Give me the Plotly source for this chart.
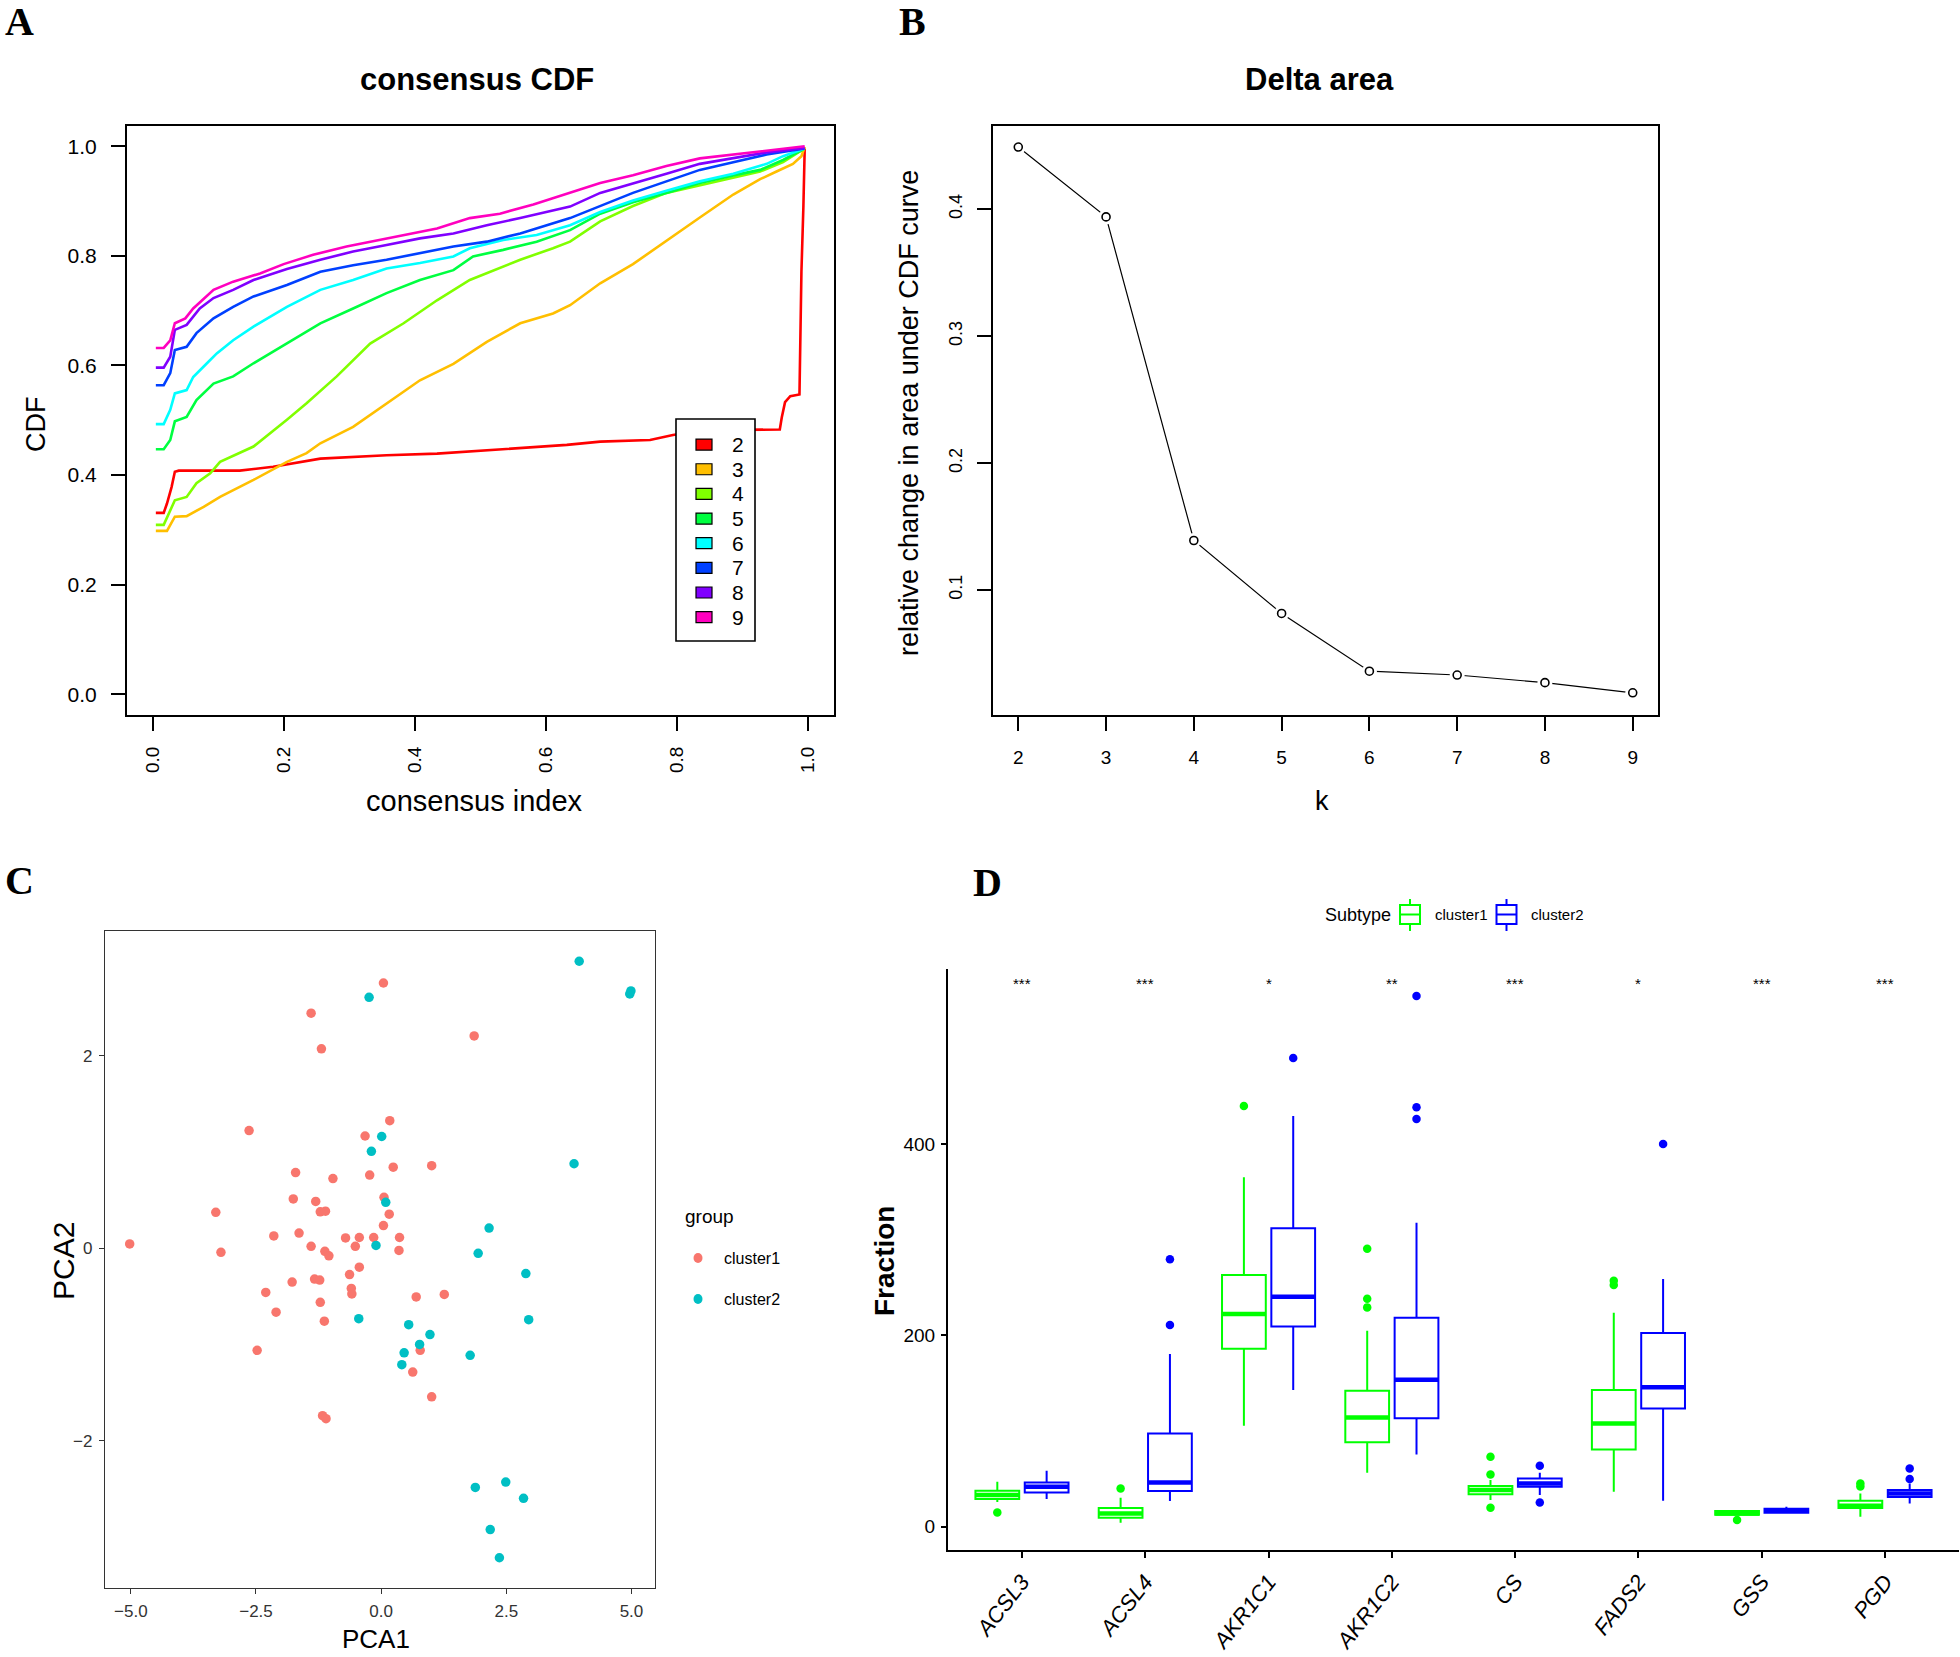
import plotly.graph_objects as go

W, H = 1960, 1657


def fx(x):
    return x / W


def fy(y):
    return 1 - y / H


ARIAL = "Liberation Sans, Arial, sans-serif"
SERIF = "Liberation Serif, Times New Roman, serif"

# ---------------- Panel A: consensus CDF ----------------
cdf_labels = ["2", "3", "4", "5", "6", "7", "8", "9"]
cdf_colors = ["#FF0000", "#FFBF00", "#80FF00", "#00FF40", "#00FFFF", "#0040FF", "#8000FF", "#FF00BF"]

cdf2_x = [0.005, 0.017, 0.022, 0.029, 0.034, 0.040, 0.133, 0.184, 0.256, 0.357, 0.434, 0.525, 0.586, 0.632,
          0.683, 0.759, 0.794, 0.840, 0.957, 0.960, 0.965, 0.973, 0.987, 0.988, 0.990, 0.993, 0.995]
cdf2_y = [0.331, 0.331, 0.348, 0.378, 0.406, 0.408, 0.408, 0.415, 0.430, 0.436, 0.439, 0.446, 0.451, 0.455,
          0.461, 0.464, 0.473, 0.482, 0.483, 0.505, 0.533, 0.544, 0.547, 0.660, 0.771, 0.890, 0.996]
cdf3_x = [0.005, 0.022, 0.034, 0.052, 0.078, 0.103, 0.154, 0.205, 0.235, 0.256, 0.306, 0.357, 0.408, 0.459,
          0.510, 0.561, 0.611, 0.637, 0.683, 0.733, 0.784, 0.835, 0.886, 0.927, 0.952, 0.977, 0.990, 0.995]
cdf3_y = [0.298, 0.298, 0.324, 0.325, 0.342, 0.360, 0.391, 0.424, 0.440, 0.458, 0.488, 0.531, 0.573, 0.603,
          0.643, 0.677, 0.695, 0.710, 0.750, 0.785, 0.828, 0.870, 0.912, 0.940, 0.954, 0.968, 0.982, 0.999]
cdf4_x = [0.005, 0.017, 0.034, 0.052, 0.067, 0.088, 0.103, 0.154, 0.205, 0.235, 0.281, 0.332, 0.383, 0.434,
          0.484, 0.510, 0.561, 0.611, 0.637, 0.683, 0.733, 0.784, 0.835, 0.886, 0.927, 0.962, 0.995]
cdf4_y = [0.309, 0.309, 0.354, 0.360, 0.385, 0.403, 0.424, 0.452, 0.501, 0.531, 0.580, 0.640, 0.677, 0.719,
          0.756, 0.768, 0.793, 0.814, 0.826, 0.863, 0.891, 0.915, 0.929, 0.943, 0.954, 0.971, 0.996]
cdf5_x = [0.005, 0.017, 0.027, 0.034, 0.052, 0.067, 0.093, 0.123, 0.154, 0.205, 0.256, 0.306, 0.357, 0.408,
          0.459, 0.489, 0.535, 0.586, 0.637, 0.683, 0.733, 0.784, 0.835, 0.886, 0.927, 0.962, 0.995]
cdf5_y = [0.447, 0.447, 0.464, 0.498, 0.506, 0.537, 0.567, 0.580, 0.604, 0.640, 0.677, 0.704, 0.732, 0.756,
          0.774, 0.799, 0.811, 0.826, 0.847, 0.877, 0.898, 0.915, 0.933, 0.947, 0.957, 0.975, 0.996]
cdf6_x = [0.005, 0.017, 0.027, 0.034, 0.052, 0.062, 0.083, 0.098, 0.123, 0.154, 0.205, 0.256, 0.306, 0.357,
          0.408, 0.459, 0.484, 0.535, 0.586, 0.637, 0.683, 0.733, 0.784, 0.835, 0.886, 0.937, 0.962, 0.995]
cdf6_y = [0.493, 0.493, 0.519, 0.549, 0.555, 0.579, 0.604, 0.622, 0.646, 0.671, 0.707, 0.738, 0.756, 0.777,
          0.787, 0.799, 0.814, 0.829, 0.838, 0.856, 0.880, 0.901, 0.919, 0.936, 0.950, 0.968, 0.982, 0.996]
cdf7_x = [0.005, 0.017, 0.027, 0.034, 0.052, 0.067, 0.093, 0.123, 0.154, 0.205, 0.256, 0.306, 0.357, 0.408,
          0.459, 0.510, 0.561, 0.637, 0.683, 0.733, 0.784, 0.835, 0.886, 0.937, 0.995]
cdf7_y = [0.564, 0.564, 0.586, 0.628, 0.634, 0.659, 0.686, 0.707, 0.726, 0.747, 0.771, 0.783, 0.793, 0.805,
          0.817, 0.826, 0.841, 0.869, 0.891, 0.915, 0.936, 0.957, 0.971, 0.985, 0.996]
cdf8_x = [0.005, 0.017, 0.027, 0.034, 0.052, 0.072, 0.093, 0.123, 0.154, 0.205, 0.256, 0.306, 0.357, 0.408,
          0.459, 0.510, 0.561, 0.637, 0.683, 0.733, 0.784, 0.835, 0.886, 0.937, 0.995]
cdf8_y = [0.596, 0.596, 0.616, 0.665, 0.674, 0.704, 0.723, 0.738, 0.756, 0.776, 0.793, 0.808, 0.820, 0.832,
          0.841, 0.856, 0.869, 0.890, 0.915, 0.933, 0.950, 0.968, 0.978, 0.989, 0.997]
cdf9_x = [0.005, 0.017, 0.027, 0.034, 0.050, 0.062, 0.072, 0.093, 0.123, 0.164, 0.200, 0.245, 0.296, 0.357,
          0.434, 0.484, 0.530, 0.581, 0.632, 0.683, 0.733, 0.784, 0.835, 0.886, 0.937, 0.995]
cdf9_y = [0.632, 0.632, 0.646, 0.677, 0.686, 0.704, 0.715, 0.738, 0.753, 0.768, 0.785, 0.802, 0.817, 0.832,
          0.850, 0.869, 0.877, 0.894, 0.913, 0.933, 0.947, 0.964, 0.978, 0.985, 0.993, 1.000]

cdf_xs = [cdf2_x, cdf3_x, cdf4_x, cdf5_x, cdf6_x, cdf7_x, cdf8_x, cdf9_x]
cdf_ys = [cdf2_y, cdf3_y, cdf4_y, cdf5_y, cdf6_y, cdf7_y, cdf8_y, cdf9_y]

# ---------------- Panel B: Delta area ----------------
k_values = [2, 3, 4, 5, 6, 7, 8, 9]
delta_area = [0.449, 0.394, 0.139, 0.0815, 0.036, 0.033, 0.027, 0.019]

# ---------------- Panel C: PCA ----------------
pc1_cluster1 = [0.046, -1.399, -1.193, 1.858, -2.638, 0.172, -0.321, -1.709, -0.963, -0.229, 0.241, 1.009,
                -1.755, -1.307, -1.216, -1.112, 0.057, 0.161, -3.303, 0.046, -5.023, -3.200, -2.144, -1.640,
                -1.399, -1.124, -1.044, -0.711, -0.436, -0.516, -0.149, 0.367, 0.356, -0.436, -0.631, -0.596,
                -0.585, -1.330, -1.227, -1.778, -2.305, -1.216, -2.099, -1.135, 0.700, 1.261, -2.477, 0.780,
                0.631, 1.009, -1.170, -1.101]
pc2_cluster1 = [2.756, 2.442, 2.072, 2.206, 1.224, 1.326, 1.167, 0.787, 0.725, 0.761, 0.843, 0.859,
                0.514, 0.488, 0.380, 0.386, 0.530, 0.355, 0.375, 0.237, 0.046, -0.041, 0.129, 0.159,
                0.021, -0.031, -0.077, 0.108, 0.113, 0.021, 0.113, 0.113, -0.021, -0.195, -0.272, -0.416,
                -0.473, -0.319, -0.329, -0.350, -0.458, -0.560, -0.663, -0.756, -0.504, -0.478, -1.059, -1.059,
                -1.285, -1.542, -1.738, -1.769]
pc1_cluster2 = [3.956, 4.966, 4.989, -0.241, 0.011, -0.195, 3.853, 0.092, 2.156, -0.103, 1.938, 2.890,
                2.947, -0.447, 0.550, 0.975, 0.768, 0.459, 0.413, 1.778, 1.881, 2.489, 2.844, 2.179, 2.362]
pc2_cluster2 = [2.982, 2.643, 2.674, 2.607, 1.162, 1.008, 0.879, 0.478, 0.211, 0.031, -0.051, -0.262,
                -0.740, -0.730, -0.792, -0.895, -0.997, -1.085, -1.208, -1.111, -2.483, -2.427, -2.596, -2.920,
                -3.213]
pca_groups = ["cluster1", "cluster2"]
pca_colors = ["#F8766D", "#00BFC4"]

# ---------------- Panel D: boxplots ----------------
genes = ["ACSL3", "ACSL4", "AKR1C1", "AKR1C2", "CS", "FADS2", "GSS", "PGD"]
sig_labels = ["***", "***", "*", "**", "***", "*", "***", "***"]
sig_y = 568

c1_lower = [25.9, 4.1, 105.5, 56.3, 27.8, 36.5, 12.4, 10.4]
c1_q1 = [28.8, 9.3, 186.0, 88.1, 34.0, 80.7, 12.4, 19.4]
c1_median = [33.0, 13.8, 222.2, 114.2, 38.2, 107.9, 13.8, 21.8]
c1_q3 = [37.5, 19.4, 263.0, 142.1, 42.4, 142.8, 16.3, 27.1]
c1_upper = [46.9, 30.2, 365.1, 204.8, 48.7, 223.6, 17.3, 34.7]
c1_outliers = [[14.9], [40.0], [439.7], [290.5, 238.3, 229.2], [73.1, 54.6, 19.8], [257.1, 252.5], [6.9],
               [45.2, 42.0]]

c2_lower = [28.8, 26.7, 142.8, 75.5, 33.0, 27.1, 13.8, 24.3]
c2_q1 = [35.8, 37.2, 209.3, 113.2, 41.7, 123.6, 14.5, 30.9]
c2_median = [41.7, 46.2, 240.4, 153.6, 45.2, 145.6, 16.6, 34.7]
c2_q3 = [46.2, 97.5, 311.8, 218.4, 50.4, 202.4, 18.7, 38.2]
c2_upper = [58.4, 180.4, 429.2, 317.7, 56.3, 258.8, 20.8, 45.2]
c2_outliers = [[], [210.7, 279.4], [489.9], [554.7, 438.3, 426.1], [63.7, 25.3], [400.0], [], [60.9, 49.7]]

subtypes = ["cluster1", "cluster2"]
subtype_colors = ["#00FF00", "#0000FF"]

fig = go.Figure()

# ---- A traces
for xs, ys, col, lab in zip(cdf_xs, cdf_ys, cdf_colors, cdf_labels):
    fig.add_trace(go.Scatter(x=xs, y=ys, mode="lines", line=dict(color=col, width=2.6),
                             name=lab, showlegend=False, xaxis="x", yaxis="y"))

# ---- B traces
fig.add_trace(go.Scatter(x=k_values, y=delta_area, mode="lines", line=dict(color="black", width=1.2),
                         showlegend=False, xaxis="x2", yaxis="y2"))
fig.add_trace(go.Scatter(x=k_values, y=delta_area, mode="markers",
                         marker=dict(symbol="circle", size=15, color="white", line=dict(width=0)),
                         showlegend=False, xaxis="x2", yaxis="y2"))
fig.add_trace(go.Scatter(x=k_values, y=delta_area, mode="markers",
                         marker=dict(symbol="circle-open", size=8, color="black", line=dict(width=1.6)),
                         showlegend=False, xaxis="x2", yaxis="y2"))

# ---- C traces
for xs, ys, col, lab in zip([pc1_cluster1, pc1_cluster2], [pc2_cluster1, pc2_cluster2], pca_colors, pca_groups):
    fig.add_trace(go.Scatter(x=xs, y=ys, mode="markers", name=lab, showlegend=False,
                             marker=dict(color=col, size=9.5, line=dict(width=0)),
                             xaxis="x3", yaxis="y3"))

# ---- D traces
BW = 0.355
OFF = 0.2
stats = [
    (c1_lower, c1_q1, c1_median, c1_q3, c1_upper, c1_outliers),
    (c2_lower, c2_q1, c2_median, c2_q3, c2_upper, c2_outliers),
]
for gi, (lo, q1, med, q3, up, outl) in enumerate(stats):
    col = subtype_colors[gi]
    sign = -1 if gi == 0 else 1
    xpos = [i + 1 + sign * OFF for i in range(len(genes))]
    fig.add_trace(go.Box(x=xpos, q1=q1, median=med, q3=q3, lowerfence=lo, upperfence=up,
                         width=BW, whiskerwidth=0, boxpoints=False, orientation="v",
                         line=dict(color=col, width=2), fillcolor="white",
                         name=subtypes[gi], showlegend=False, xaxis="x4", yaxis="y4"))
    mx, my = [], []
    for xp, m in zip(xpos, med):
        mx += [xp - BW / 2, xp + BW / 2, None]
        my += [m, m, None]
    fig.add_trace(go.Scatter(x=mx, y=my, mode="lines", line=dict(color=col, width=4.5),
                             showlegend=False, xaxis="x4", yaxis="y4"))
    ox, oy = [], []
    for xp, vals in zip(xpos, outl):
        for v in vals:
            ox.append(xp)
            oy.append(v)
    fig.add_trace(go.Scatter(x=ox, y=oy, mode="markers", marker=dict(color=col, size=8.5),
                             showlegend=False, xaxis="x4", yaxis="y4"))

# ---------------- Layout ----------------
ann = []
shapes = []


def text(x, y, s, size, family=ARIAL, angle=0, xanchor="center", bold=False, color="black"):
    ann.append(dict(x=fx(x), y=fy(y), xref="paper", yref="paper", text=(f"<b>{s}</b>" if bold else s),
                    showarrow=False, textangle=angle, xanchor=xanchor, yanchor="middle",
                    font=dict(size=size, family=family, color=color)))


# panel letters
text(19, 22, "A", 40, SERIF, bold=True)
text(912, 22, "B", 40, SERIF, bold=True)
text(19, 880, "C", 40, SERIF, bold=True)
text(987, 882, "D", 40, SERIF, bold=True)

# A titles
text(477, 79, "consensus CDF", 31, bold=True)
text(474, 801, "consensus index", 29)
text(36, 424, "CDF", 27, angle=-90)
# B titles
text(1319, 79, "Delta area", 31, bold=True)
text(1322, 801, "k", 27)
text(909, 413, "relative change in area under CDF curve", 27, angle=-90)
# C titles
text(376, 1639, "PCA1", 26)
text(63, 1261, "PCA2", 30, angle=-90)
# D title
text(884, 1261, "Fraction", 28, angle=-90, bold=True)

# A legend
shapes.append(dict(type="rect", xref="paper", yref="paper", x0=fx(676), x1=fx(755), y0=fy(641), y1=fy(419),
                   line=dict(color="black", width=1.6), fillcolor="white", layer="above"))
for i, (lab, col) in enumerate(zip(cdf_labels, cdf_colors)):
    yc = 444.6 + i * 24.65
    shapes.append(dict(type="rect", xref="paper", yref="paper", x0=fx(696), x1=fx(712), y0=fy(yc + 5.5),
                       y1=fy(yc - 5.5), line=dict(color="black", width=1.2), fillcolor=col, layer="above"))
    text(738, yc, lab, 21)

# C legend
text(683, 1216, "group", 19, xanchor="left")
for i, (lab, col) in enumerate(zip(pca_groups, pca_colors)):
    yc = 1258 + i * 41
    shapes.append(dict(type="circle", xref="paper", yref="paper", xsizemode="pixel", ysizemode="pixel",
                       xanchor=fx(698), yanchor=fy(yc), x0=-4.5, x1=4.5, y0=-5, y1=5,
                       fillcolor=col, line=dict(width=0)))
    text(722, yc, lab, 16, xanchor="left")

# D legend
text(1323, 915, "Subtype", 18, xanchor="left")
for i, (lab, col) in enumerate(zip(subtypes, subtype_colors)):
    x0 = 1400 + i * 96.5
    x1 = x0 + 20
    xm = (x0 + x1) / 2
    shapes.append(dict(type="rect", xref="paper", yref="paper", x0=fx(x0), x1=fx(x1), y0=fy(924), y1=fy(905),
                       line=dict(color=col, width=2), fillcolor="white"))
    shapes.append(dict(type="line", xref="paper", yref="paper", x0=fx(x0), x1=fx(x1), y0=fy(914.5),
                       y1=fy(914.5), line=dict(color=col, width=2)))
    shapes.append(dict(type="line", xref="paper", yref="paper", x0=fx(xm), x1=fx(xm), y0=fy(905),
                       y1=fy(899), line=dict(color=col, width=2)))
    shapes.append(dict(type="line", xref="paper", yref="paper", x0=fx(xm), x1=fx(xm), y0=fy(924),
                       y1=fy(931), line=dict(color=col, width=2)))
    text(x1 + 12.5, 915, lab, 15, xanchor="left")

# significance labels (data coords of D axes)
for i, s in enumerate(sig_labels):
    ann.append(dict(x=i + 1, y=sig_y, xref="x4", yref="y4", text=s, showarrow=False,
                    font=dict(size=15, family=ARIAL, color="black"), yanchor="middle"))

axA = dict(showline=True, mirror=True, linecolor="black", linewidth=2, showgrid=False, zeroline=False,
           ticks="outside", ticklen=14, tickwidth=1.6, tickcolor="black")

fig.update_layout(
    width=W, height=H, autosize=False,
    margin=dict(l=0, r=0, t=0, b=0),
    paper_bgcolor="white", plot_bgcolor="white",
    showlegend=False,
    boxmode="overlay",
    annotations=ann, shapes=shapes,
    xaxis=dict(axA, domain=[fx(127), fx(834)], range=[-0.039, 1.0397], anchor="y",
               tickvals=[0, 0.2, 0.4, 0.6, 0.8, 1.0], tickformat=".1f", tickangle=-90,
               tickfont=dict(size=19, family=ARIAL, color="black"), ticklabelstandoff=8),
    yaxis=dict(axA, domain=[fy(715), fy(125.5)], range=[-0.038, 1.038], anchor="x",
               tickvals=[0, 0.2, 0.4, 0.6, 0.8, 1.0], tickformat=".1f",
               tickfont=dict(size=21, family=ARIAL, color="black"), ticklabelstandoff=10),
    xaxis2=dict(axA, domain=[fx(993), fx(1658)], range=[1.712, 9.288], anchor="y2",
                tickvals=k_values, tickfont=dict(size=19, family=ARIAL, color="black"), ticklabelstandoff=10),
    yaxis2=dict(axA, domain=[fy(715), fy(125.5)], range=[0.0015, 0.466], anchor="x2",
                tickvals=[0.1, 0.2, 0.3, 0.4], tickformat=".1f", tickangle=-90,
                tickfont=dict(size=18, family=ARIAL, color="black"), ticklabelstandoff=8),
    xaxis3=dict(showline=True, mirror=True, linecolor="#333333", linewidth=1.2, showgrid=False, zeroline=False,
                ticks="outside", ticklen=5, tickcolor="#333333", domain=[fx(105), fx(655)],
                range=[-5.516, 5.47], anchor="y3", tickvals=[-5, -2.5, 0, 2.5, 5], tickformat=".1f",
                tickfont=dict(size=17, family=ARIAL, color="#333333"), ticklabelstandoff=2),
    yaxis3=dict(showline=True, mirror=True, linecolor="#333333", linewidth=1.2, showgrid=False, zeroline=False,
                ticks="outside", ticklen=5, tickcolor="#333333", domain=[fy(1588), fy(931)],
                range=[-3.527, 3.296], anchor="x3", tickvals=[-2, 0, 2],
                tickfont=dict(size=17, family=ARIAL, color="#333333"), ticklabelstandoff=3),
    xaxis4=dict(showline=True, mirror=False, linecolor="black", linewidth=2.2, showgrid=False, zeroline=False,
                ticks="outside", ticklen=6, tickwidth=1.6, tickcolor="black", domain=[fx(948), fx(1959)],
                range=[0.4, 8.6], anchor="y4", tickvals=list(range(1, len(genes) + 1)),
                ticktext=[f"<i>{g}</i>" for g in genes], tickangle=-52,
                tickfont=dict(size=22, family=ARIAL, color="black"), ticklabelstandoff=2),
    yaxis4=dict(showline=True, mirror=False, linecolor="black", linewidth=2.2, showgrid=False, zeroline=False,
                ticks="outside", ticklen=5, tickwidth=1.6, tickcolor="black", domain=[fy(1550), fy(969)],
                range=[-24.4, 582.9], anchor="x4", tickvals=[0, 200, 400],
                tickfont=dict(size=19, family=ARIAL, color="black"), ticklabelstandoff=2),
)

fig.write_html("out.html", config={"displayModeBar": False},
               post_script="document.body.style.margin='0';")
